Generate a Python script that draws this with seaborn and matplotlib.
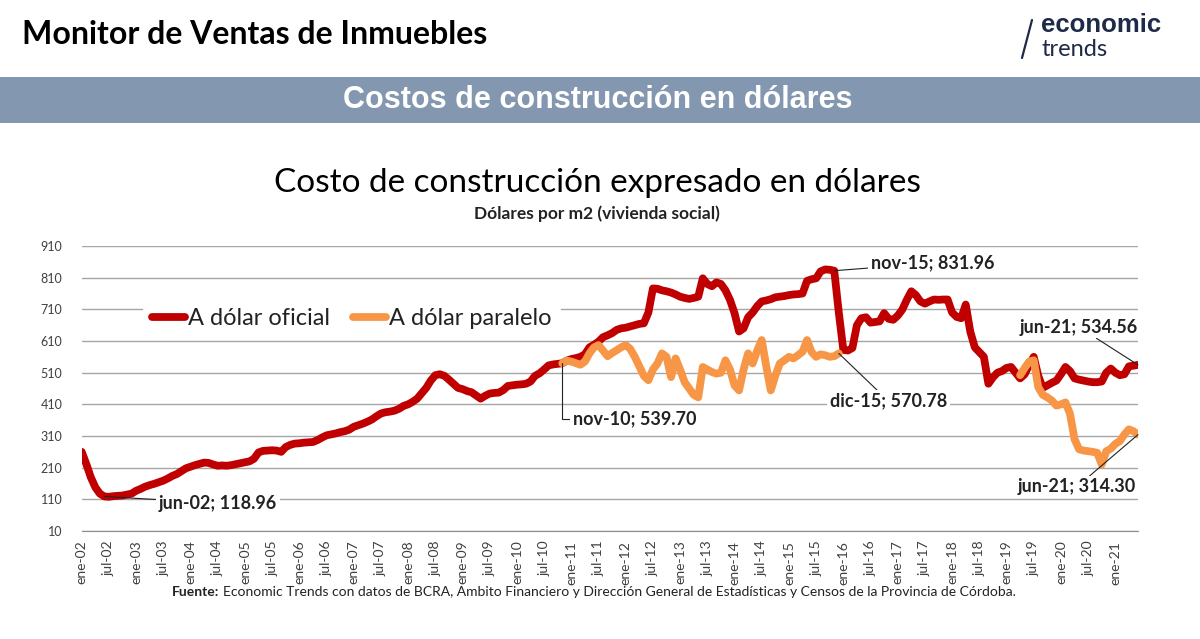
import numpy as np
import pandas as pd
import matplotlib
matplotlib.use("Agg")
import matplotlib.pyplot as plt
import seaborn as sns
from matplotlib.lines import Line2D

# costo en dolares por m2, mensual ene-02 .. jun-21
oficial = [
    260, 222, 180, 148, 128, 118.96, 118, 120, 121, 122, 125, 128,   # 2002
    137, 143, 150, 155, 159, 164, 169, 176, 184, 190, 199, 208,      # 2003
    213, 218, 222, 226, 225, 220, 216, 217, 216, 218, 221, 224,      # 2004
    227, 230, 238, 258, 263, 264, 265, 264, 260, 275, 282, 286,      # 2005
    287, 289, 290, 291, 297, 305, 312, 315, 318, 322, 325, 330,      # 2006
    339, 344, 349, 355, 362, 372, 381, 385, 387, 390, 396, 405,      # 2007
    410, 418, 428, 445, 462, 485, 502, 505, 500, 488, 475, 462,      # 2008
    458, 452, 448, 438, 428, 437, 444, 446, 447, 455, 468, 470,      # 2009
    472, 473, 475, 482, 500, 508, 520, 533, 536, 538, 539.70, 548,   # 2010
    553, 556, 560, 568, 590, 598, 608, 622, 628, 635, 645, 650,      # 2011
    652, 656, 660, 664, 666, 700, 776, 775, 770, 767, 763, 757,      # 2012
    750, 746, 743, 746, 750, 808, 790, 783, 795, 790, 770, 740,      # 2013
    698, 640, 650, 685, 700, 720, 735, 738, 742, 748, 750, 752,      # 2014
    755, 757, 758, 760, 800, 805, 808, 830, 836, 835, 831.96, 700,   # 2015
    582, 580, 588, 660, 682, 685, 668, 670, 672, 698, 680, 677,      # 2016
    690, 709, 740, 767, 755, 735, 728, 735, 741, 740, 741, 741,      # 2017
    700, 686, 682, 725, 640, 590, 575, 560, 475, 495, 510, 515,      # 2018
    525, 528, 510, 492, 505, 535, 560, 500, 462, 470, 478, 485,      # 2019
    505, 528, 515, 492, 488, 485, 482, 480, 480, 482, 510, 523,      # 2020
    510, 502, 505, 530, 532, 534.56,                                 # 2021
]

# dolar paralelo: nov-10 .. dic-15
paralelo_1 = [
    539.70, 548,                                                     # 2010
    545, 540, 535, 545, 571, 590, 597, 580, 562, 572, 581, 590,      # 2011
    597, 585, 560, 530, 500, 486, 520, 539, 571, 560, 496, 555,      # 2012
    520, 480, 460, 440, 432, 528, 520, 512, 507, 510, 549, 520,      # 2013
    470, 454, 520, 571, 539, 580, 613, 530, 454, 500, 539, 549,      # 2014
    560, 555, 565, 576, 613, 575, 560, 568, 565, 560, 562, 570.78,   # 2015
]
# dolar paralelo: abr-19 .. jun-21
paralelo_2 = [
    502, 525, 545, 549, 464, 440, 432, 422, 406,                     # 2019
    410, 416, 380, 300, 268, 264, 262, 260, 257, 220, 262, 270,      # 2020
    285, 294, 315, 331, 325, 314.30,                                 # 2021
]
inicio_p1 = 106   # nov-10
inicio_p2 = 207   # abr-19

meses = ["ene", "feb", "mar", "abr", "may", "jun",
         "jul", "ago", "sep", "oct", "nov", "dic"]
fechas = [f"{m}-{a:02d}" for a in range(2, 22) for m in meses][:len(oficial)]
y_ticks = list(range(10, 911, 100))

serie_of = "A dólar oficial"
serie_pa = "A dólar paralelo"
rojo = "#c00000"
naranja = "#f79646"
navy = "#1d2a48"

df = pd.concat([
    pd.DataFrame({"mes": range(len(oficial)), "valor": oficial,
                  "serie": serie_of, "tramo": "o"}),
    pd.DataFrame({"mes": range(inicio_p1, inicio_p1 + len(paralelo_1)),
                  "valor": paralelo_1, "serie": serie_pa, "tramo": "p1"}),
    pd.DataFrame({"mes": range(inicio_p2, inicio_p2 + len(paralelo_2)),
                  "valor": paralelo_2, "serie": serie_pa, "tramo": "p2"}),
], ignore_index=True)

sns.set_style("white")
plt.rcParams["font.family"] = ["Lato", "DejaVu Sans"]

W, H = 1200, 639
fig = plt.figure(figsize=(W / 100, H / 100), dpi=100)
fig.patch.set_facecolor("white")

# cabecera
fig.text(22 / W, 1 - 34 / H, "Monitor de Ventas de Inmuebles", fontsize=23,
         color="black", ha="left", va="center", fontweight="bold")
fig.add_artist(Line2D([1032 / W, 1022 / W], [1 - 20 / H, 1 - 58 / H],
                      color=navy, lw=1.6))
fig.text(1041 / W, 1 - 25 / H, "economic", fontsize=18.5, color=navy,
         ha="left", va="center", fontweight="bold",
         family=["Liberation Sans", "DejaVu Sans"])
fig.text(1041 / W, 1 - 50 / H, "trends", fontsize=17, color=navy,
         ha="left", va="center")

band = fig.add_axes([0, 1 - 123 / H, 1, 46 / H])
band.set_facecolor("#8497b0")
band.set_xticks([])
band.set_yticks([])
for s in band.spines.values():
    s.set_visible(False)
fig.text(598 / W, 1 - 100 / H, "Costos de construcción en dólares",
         fontsize=22, color="white", ha="center", va="center",
         fontweight="bold", family=["Liberation Sans", "DejaVu Sans"])

fig.text(597 / W, 1 - 183 / H, "Costo de construcción expresado en dólares",
         fontsize=24, color="black", ha="center", va="center")
fig.text(597 / W, 1 - 214 / H, "Dólares por m2 (vivienda social)",
         fontsize=12.5, color="#222222", ha="center", va="center",
         fontweight="bold")

# grafico
x0, x1, yt, yb = 81.7, 1138, 246, 531
ax = fig.add_axes([x0 / W, 1 - yb / H, (x1 - x0) / W, (yb - yt) / H])
sns.lineplot(data=df, x="mes", y="valor", hue="serie", units="tramo",
             estimator=None, palette={serie_of: rojo, serie_pa: naranja},
             linewidth=5.6, ax=ax, legend=False,
             solid_capstyle="round", solid_joinstyle="round")
ax.set_xlim(0, len(oficial) - 1)
ax.set_ylim(10, 910)
ax.set_xlabel("")
ax.set_ylabel("")
ax.set_yticks(y_ticks)
ax.set_yticklabels([str(v) for v in y_ticks], fontsize=9, color="#404040")
ax.tick_params(axis="y", length=0, pad=14)
xt = list(range(0, len(oficial), 6))
ax.set_xticks(xt)
ax.set_xticklabels([fechas[i] for i in xt], rotation=90, fontsize=10,
                   color="#404040")
ax.set_xticks([len(oficial) - 1], minor=True)
ax.tick_params(axis="x", which="both", direction="out", length=5,
               color="#8c8c8c", pad=2)
ax.yaxis.grid(True, color="#a6a6a6", lw=1)
ax.set_axisbelow(True)
for s in ["left", "top", "right"]:
    ax.spines[s].set_visible(False)
ax.spines["bottom"].set_color("#8c8c8c")

handles = [Line2D([], [], color=rojo, lw=5.6, solid_capstyle="round"),
           Line2D([], [], color=naranja, lw=5.6, solid_capstyle="round")]
leg = ax.legend(handles, [serie_of, serie_pa], loc="upper left",
                bbox_to_anchor=(0.058, 0.815), ncol=2, fontsize=17,
                handlelength=1.4, handletextpad=0.1, columnspacing=1.0,
                frameon=True, facecolor="white", edgecolor="none",
                framealpha=1, borderaxespad=0)
for t in leg.get_texts():
    t.set_color("#222222")

caja = dict(boxstyle="square,pad=0.15", fc="white", ec="none")
lin = dict(arrowstyle="-", color="#222222", lw=0.8, shrinkA=0, shrinkB=0)
kw = dict(fontsize=13, fontweight="bold", color="#222222", bbox=caja)

ax.annotate("jun-02; 118.96", xy=(5, 118.96), xytext=(17, 98),
            ha="left", va="center", arrowprops=lin, **kw)
ax.annotate("nov-10; 539.70", xy=(106, 539.70), xytext=(108.3, 364),
            ha="left", va="center",
            arrowprops=dict(lin, connectionstyle="angle,angleA=0,angleB=90,rad=0"),
            **kw)
ax.annotate("nov-15; 831.96", xy=(166, 831.96), xytext=(174, 856),
            ha="left", va="center", arrowprops=lin, **kw)
ax.annotate("dic-15; 570.78", xy=(167, 570.78), xytext=(178, 420),
            ha="center", va="center", arrowprops=lin, **kw)
ax.annotate("jun-21; 534.56", xy=(233, 534.56), xytext=(233, 654),
            ha="right", va="center", arrowprops=lin, **kw)
ax.annotate("jun-21; 314.30", xy=(233, 314.30), xytext=(232.5, 149),
            ha="right", va="center", arrowprops=lin, **kw)

# fuente
t1 = fig.text(172 / W, 1 - 592 / H, "Fuente:", fontsize=10, fontweight="bold",
              color="#222222", ha="left", va="center")
fig.canvas.draw()
bb = t1.get_window_extent()
fig.text((bb.x1 + 4) / W, 1 - 592 / H,
         "Economic Trends con datos de BCRA, Ambito Financiero y Dirección "
         "General de Estadísticas y Censos de la Provincia de Córdoba.",
         fontsize=10, color="#222222", ha="left", va="center")

fig.savefig("out.png", dpi=100)
